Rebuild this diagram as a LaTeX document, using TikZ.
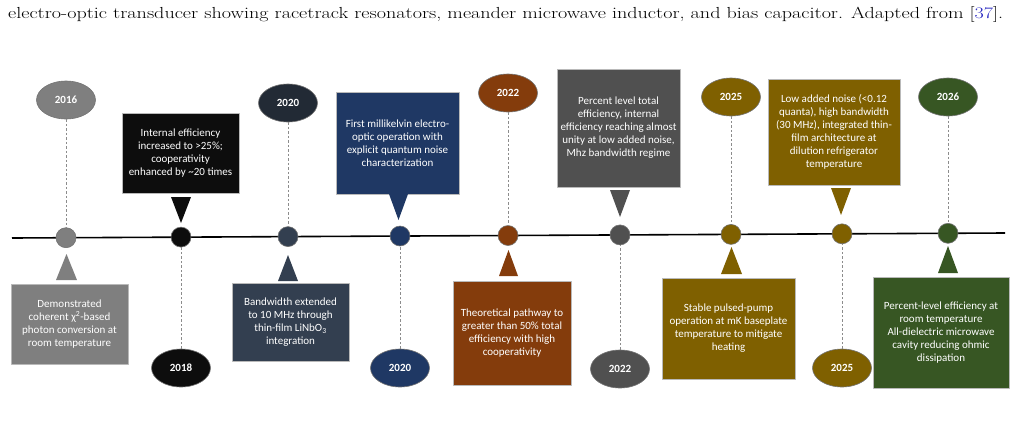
\documentclass[tikz,border=0pt]{standalone}
\usepackage{fontspec}
\newfontfamily\calibri{Carlito}
\usetikzlibrary{shapes.geometric}
\definecolor{stepgray}{HTML}{7F7F7F}
\definecolor{stepblack}{HTML}{0D0D0D}
\definecolor{stepslate}{HTML}{333F50}
\definecolor{stepslatedark}{HTML}{222A35}
\definecolor{stepnavy}{HTML}{1F3864}
\definecolor{stepbrown}{HTML}{843C0C}
\definecolor{stepdarkgray}{HTML}{505050}
\definecolor{stepolive}{HTML}{7F6000}
\definecolor{stepgreen}{HTML}{375623}
\definecolor{stemgray}{HTML}{8C8C8C}
\definecolor{citeblue}{HTML}{2525C0}

\begin{document}
\begin{tikzpicture}[
  x=1pt,
  y=-1pt,
  line join=round,
  event/.style={draw=gray!55,line width=0.6pt,text=white,align=center,inner sep=0pt,
    font=\calibri\fontsize{11}{13}\selectfont},
  year/.style={ellipse,draw=black!55,line width=0.6pt,text=white,inner sep=0pt,
    minimum width=59pt,minimum height=38pt,font=\calibri\bfseries\fontsize{11}{13}\selectfont},
  dot/.style={circle,draw=black!55,line width=0.6pt,minimum size=20pt,inner sep=0pt},
  stem/.style={draw=stemgray,line width=1pt,dash pattern=on 2.5pt off 2pt},
  axis/.style={draw=black,line width=1.6pt}
]
  % Keep the frame of the original screenshot.
  \useasboundingbox (0,0) rectangle (1016,434);

  % Caption line left over from the page above (stretched wide as in the screenshot).
  \node[anchor=base west,inner sep=0pt,font=\fontsize{16}{18}\selectfont] (caption) at (8,18.5)
    {\resizebox{995pt}{\height}{electro-optic transducer showing racetrack resonators, meander microwave inductor, and bias capacitor. Adapted from [\textcolor{citeblue}{37}].}};

  % Time axis, slightly tilted as in the source.
  \coordinate (axisStart) at (12,238);
  \coordinate (axisEnd) at (1005,233);
  \draw[axis] (axisStart) -- (axisEnd);

  % Milestone dots on the axis.
  \node[dot,fill=stepgray] (dot1) at (66,237.7) {};
  \node[dot,fill=stepblack] (dot2) at (181,237.1) {};
  \node[dot,fill=stepslate] (dot3) at (288,236.6) {};
  \node[dot,fill=stepnavy] (dot4) at (400,236.0) {};
  \node[dot,fill=stepbrown] (dot5) at (508,235.5) {};
  \node[dot,fill=stepdarkgray] (dot6) at (620,234.9) {};
  \node[dot,fill=stepolive] (dot7) at (731,234.4) {};
  \node[dot,fill=stepolive] (dot8) at (842,233.8) {};
  \node[dot,fill=stepgreen] (dot9) at (948,233.3) {};

  % Year labels, alternating above and below.
  \node[year,fill=stepgray] (year1) at (66,100) {2016};
  \node[year,fill=stepblack] (year2) at (181,368) {2018};
  \node[year,fill=stepslatedark] (year3) at (288,103) {2020};
  \node[year,fill=stepnavy] (year4) at (400,368) {2020};
  \node[year,fill=stepbrown] (year5) at (508,93) {2022};
  \node[year,fill=stepdarkgray] (year6) at (620,369) {2022};
  \node[year,fill=stepolive] (year7) at (731,97) {2025};
  \node[year,fill=stepolive] (year8) at (842,368) {2025};
  \node[year,fill=stepgreen] (year9) at (948,97) {2026};

  % Dashed stems from the years to the dots.
  \draw[stem] (year1) -- (dot1);
  \draw[stem] (year2) -- (dot2);
  \draw[stem] (year3) -- (dot3);
  \draw[stem] (year4) -- (dot4);
  \draw[stem] (year5) -- (dot5);
  \draw[stem] (year6) -- (dot6);
  \draw[stem] (year7) -- (dot7);
  \draw[stem] (year8) -- (dot8);
  \draw[stem] (year9) -- (dot9);

  % Event boxes.
  \node[event,fill=stepgray,minimum width=117pt,minimum height=80pt] (event1) at (69.5,324)
    {Demonstrated\\coherent χ\textsuperscript{2}-based\\photon conversion at\\room temperature};
  \node[event,fill=stepblack,minimum width=117pt,minimum height=80pt] (event2) at (180.5,153)
    {Internal efficiency\\increased to >25\%;\\cooperativity\\enhanced by \textasciitilde20 times};
  \node[event,fill=stepslate,minimum width=117pt,minimum height=78pt] (event3) at (290.5,322)
    {Bandwidth extended\\to 10 MHz through\\thin-film LiNbO\textsubscript{3}\\integration};
  \node[event,fill=stepnavy,minimum width=123pt,minimum height=102pt] (event4) at (397.5,143)
    {First millikelvin electro-\\optic operation with\\explicit quantum noise\\characterization};
  \node[event,fill=stepbrown,minimum width=118pt,minimum height=104pt] (event5) at (512,333)
    {Theoretical pathway to\\greater than 50\% total\\efficiency with high\\cooperativity};
  \node[event,fill=stepdarkgray,minimum width=123pt,minimum height=118pt] (event6) at (618.5,128)
    {Percent level total\\efficiency, internal\\efficiency reaching almost\\unity at low added noise,\\Mhz bandwidth regime};
  \node[event,fill=stepolive,minimum width=133pt,minimum height=101pt] (event7) at (728.5,328.5)
    {Stable pulsed-pump\\operation at mK baseplate\\temperature to mitigate\\heating};
  \node[event,fill=stepolive,minimum width=132pt,minimum height=106pt] (event8) at (834,132)
    {Low added noise (<0.12\\quanta), high bandwidth\\(30 MHz), integrated thin-\\film architecture at\\dilution refrigerator\\temperature};
  \node[event,fill=stepgreen,minimum width=136pt,minimum height=111pt] (event9) at (941,332.5)
    {Percent-level efficiency at\\room temperature\\All-dielectric microwave\\cavity reducing ohmic\\dissipation};

  % Callout pointers towards the axis.
  \fill[stepgray] (56,280) -- (77,280) -- (66.5,254) -- cycle;
  \fill[stepblack] (171,197) -- (191,197) -- (181,223) -- cycle;
  \fill[stepslate] (278,281) -- (298,281) -- (288,255) -- cycle;
  \fill[stepnavy] (389,194) -- (408,194) -- (398.5,220) -- cycle;
  \fill[stepbrown] (499,276) -- (518,276) -- (508.5,250) -- cycle;
  \fill[stepdarkgray] (610,190) -- (630,190) -- (620,217) -- cycle;
  \fill[stepolive] (721,274) -- (742,274) -- (731.5,247) -- cycle;
  \fill[stepolive] (831,188) -- (851,188) -- (841,215) -- cycle;
  \fill[stepgreen] (938,273) -- (958,273) -- (948,246) -- cycle;
\end{tikzpicture}
\end{document}
